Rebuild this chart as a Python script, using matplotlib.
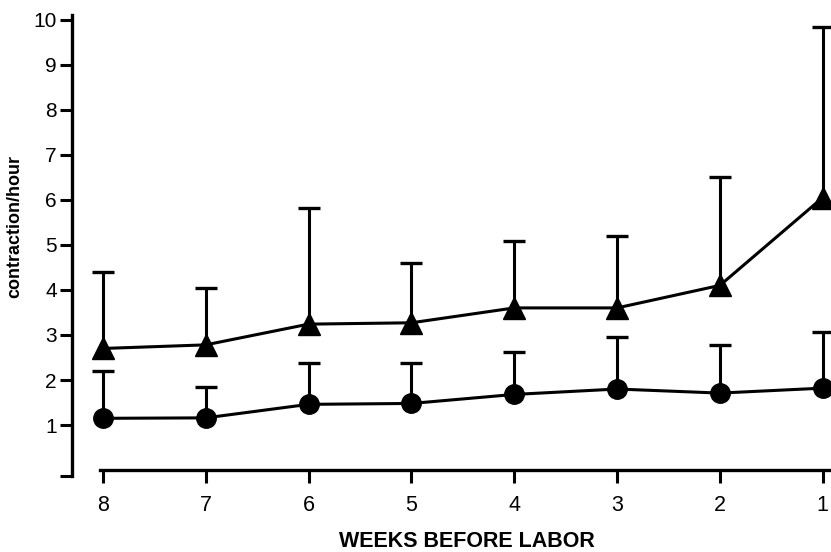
import matplotlib
matplotlib.use('Agg')
import matplotlib.pyplot as plt
import numpy as np

plt.rcParams['font.family'] = ['Liberation Sans', 'DejaVu Sans']

weeks = [8, 7, 6, 5, 4, 3, 2, 1]
# triangles (upper series) and circles (lower series), with top of error bar
tri_mean = np.array([2.70, 2.78, 3.24, 3.27, 3.60, 3.60, 4.10, 6.05])
tri_top = np.array([4.40, 4.04, 5.82, 4.60, 5.09, 5.20, 6.50, 9.84])
circ_mean = np.array([1.15, 1.16, 1.46, 1.48, 1.68, 1.80, 1.71, 1.82])
circ_top = np.array([2.20, 1.84, 2.38, 2.38, 2.62, 2.96, 2.78, 3.07])
yticks = [1, 2, 3, 4, 5, 6, 7, 8, 9, 10]

fig = plt.figure(figsize=(8.31, 5.52), dpi=100)
ax = fig.add_axes([72/831, 1-476/552, 759/831, 461/552])

for m, top, mk, ms in [(tri_mean, tri_top, '^', 16), (circ_mean, circ_top, 'o', 14)]:
    err = [np.zeros(len(m)), top - m]
    line, caps, bars = ax.errorbar(weeks, m, yerr=err, color='black', marker=mk,
                                   markersize=ms, linewidth=2.2, elinewidth=2.2,
                                   capsize=8, capthick=2.4)
    caps[0].set_visible(False)

ax.set_xlim(8.30, 0.92)
ax.set_ylim(-0.13, 10.1)

for s in ['top', 'right']:
    ax.spines[s].set_visible(False)
ax.spines['left'].set_linewidth(2.4)
ax.spines['left'].set_bounds(-0.13, 10.1)
ax.spines['bottom'].set_position(('data', 0.0))
ax.spines['bottom'].set_linewidth(2.4)
ax.spines['bottom'].set_bounds(8.03, 0.93)

ax.set_yticks([-0.13] + yticks)
ax.set_yticklabels([''] + [str(v) for v in yticks])
ax.set_xticks(weeks)
ax.set_xticklabels([str(w) for w in weeks])
ax.tick_params(axis='y', direction='out', length=9, width=2.2, labelsize=15, pad=2)
ax.tick_params(axis='x', direction='out', length=9, width=2.2, labelsize=15.5, pad=9)

ax.set_xlabel('WEEKS BEFORE LABOR', fontsize=15.5, fontweight='bold')
ax.xaxis.set_label_coords(0.52, -0.119)
ax.set_ylabel('contraction/hour', fontsize=13, fontweight='bold')
ax.yaxis.set_label_coords(-0.064, 0.542)

fig.savefig('out.png', dpi=100)
